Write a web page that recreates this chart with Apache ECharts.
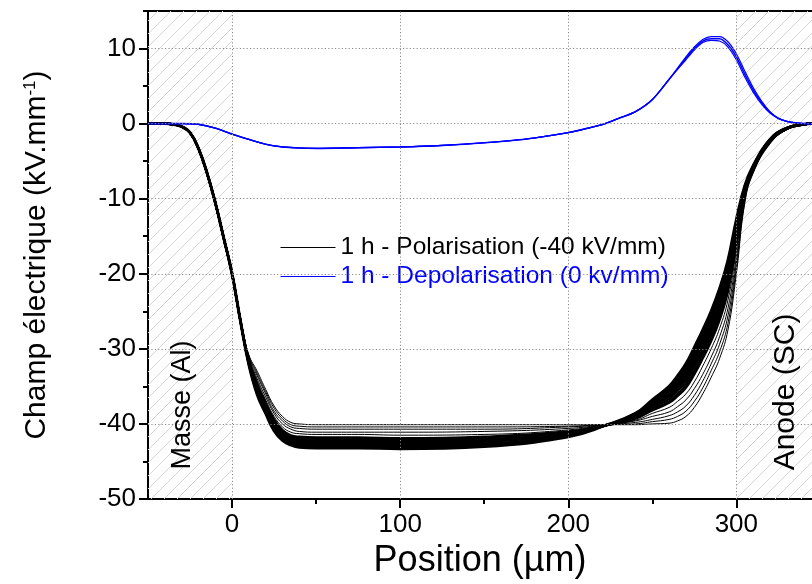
<!DOCTYPE html>
<html>
<head>
<meta charset="utf-8">
<script src="https://cdn.jsdelivr.net/npm/echarts@6/dist/echarts.min.js"></script>
<style>html,body{margin:0;padding:0;background:#fff;}#c{width:812px;height:584px;}</style>
</head>
<body>
<div id="c"></div>
<script>
// ---- data ----
const polName = '1 h - Polarisation (-40 kV/mm)';
const depName = '1 h - Depolarisation (0 kv/mm)';

// shared left part of every polarisation curve
const xHead = [-50, -40, -35, -30, -25, -20, -15, -10, -5, 0, 5];
const yHead = [0, 0, -0.1, -0.4, -1.2, -3.3, -6.5, -10.5, -15.2, -20.0, -26.3];
// per-curve part
const xBody = [10, 15, 20, 25, 30, 35, 40, 50, 75, 100, 150, 200, 222, 240, 250, 260, 265, 270, 275, 280, 285, 290, 295, 300, 305, 310, 320, 330];
// shared right end
const xTail = [340, 345];
const yTail = [-0.1, 0];

const pol01 = [-30.8, -33.0, -35.4, -37.6, -39.0, -39.8, -40.0, -40.1, -40.1, -40.1, -40.1, -40.1, -40.1, -40.1, -40.0, -39.9, -39.6, -39.0, -37.8, -36.0, -33.8, -31.3, -27.5, -20.0, -10.6, -6.6, -2.7, -0.8];
const pol02 = [-30.9, -33.3, -35.7, -37.9, -39.3, -40.1, -40.3, -40.4, -40.4, -40.4, -40.4, -40.3, -40.1, -40.0, -39.7, -39.4, -39.0, -38.3, -37.0, -35.2, -32.9, -30.4, -26.6, -19.3, -10.4, -6.5, -2.6, -0.8];
const pol03 = [-31.1, -33.6, -36.0, -38.3, -39.6, -40.4, -40.6, -40.7, -40.7, -40.7, -40.7, -40.4, -40.1, -39.8, -39.4, -38.9, -38.4, -37.6, -36.2, -34.3, -32.0, -29.4, -25.6, -18.6, -10.1, -6.4, -2.6, -0.8];
const pol04 = [-31.2, -34.0, -36.4, -38.6, -40.0, -40.7, -41.0, -41.1, -41.1, -41.1, -41.0, -40.6, -40.1, -39.6, -39.0, -38.4, -37.7, -36.8, -35.3, -33.4, -31.1, -28.4, -24.6, -17.8, -9.9, -6.3, -2.5, -0.7];
const pol05 = [-31.4, -34.3, -36.8, -39.0, -40.4, -41.1, -41.3, -41.4, -41.4, -41.5, -41.4, -40.8, -40.1, -39.5, -38.6, -37.8, -37.0, -36.0, -34.4, -32.3, -30.0, -27.3, -23.5, -16.9, -9.6, -6.2, -2.4, -0.7];
const pol06 = [-31.5, -34.7, -37.2, -39.4, -40.8, -41.5, -41.7, -41.8, -41.8, -41.9, -41.7, -41.0, -40.2, -39.3, -38.2, -37.2, -36.3, -35.2, -33.4, -31.3, -29.0, -26.2, -22.4, -16.0, -9.3, -6.1, -2.4, -0.7];
const pol07 = [-31.6, -34.9, -37.3, -39.6, -40.9, -41.6, -41.9, -42.0, -42.0, -42.0, -41.8, -41.1, -40.2, -39.2, -38.1, -37.0, -36.0, -34.8, -33.0, -30.9, -28.5, -25.7, -21.9, -15.7, -9.2, -6.0, -2.3, -0.7];
const pol08 = [-31.7, -35.1, -37.5, -39.8, -41.1, -41.8, -42.0, -42.2, -42.2, -42.2, -42.0, -41.2, -40.2, -39.1, -37.9, -36.7, -35.6, -34.4, -32.5, -30.4, -28.0, -25.2, -21.4, -15.3, -9.1, -5.9, -2.3, -0.7];
const pol09 = [-31.7, -35.2, -37.7, -39.9, -41.3, -41.9, -42.2, -42.3, -42.3, -42.4, -42.2, -41.2, -40.2, -39.0, -37.7, -36.4, -35.3, -34.0, -32.1, -30.0, -27.6, -24.7, -20.9, -14.9, -9.0, -5.9, -2.3, -0.7];
const pol10 = [-31.8, -35.4, -37.8, -40.1, -41.4, -42.1, -42.4, -42.5, -42.5, -42.5, -42.3, -41.3, -40.2, -39.0, -37.6, -36.2, -35.0, -33.7, -31.7, -29.5, -27.1, -24.2, -20.4, -14.5, -8.9, -5.8, -2.2, -0.6];
const pol11 = [-31.9, -35.5, -38.0, -40.3, -41.6, -42.2, -42.5, -42.6, -42.6, -42.7, -42.4, -41.4, -40.2, -38.9, -37.4, -36.0, -34.8, -33.4, -31.4, -29.2, -26.7, -23.8, -20.0, -14.2, -8.8, -5.8, -2.2, -0.6];
const pol12 = [-31.9, -35.6, -38.1, -40.4, -41.7, -42.4, -42.6, -42.7, -42.7, -42.8, -42.6, -41.5, -40.2, -38.8, -37.3, -35.7, -34.5, -33.1, -31.0, -28.8, -26.3, -23.4, -19.6, -13.9, -8.6, -5.8, -2.2, -0.6];
const pol13 = [-32.0, -35.8, -38.3, -40.5, -41.9, -42.5, -42.8, -42.9, -42.9, -43.0, -42.7, -41.5, -40.2, -38.8, -37.2, -35.5, -34.3, -32.8, -30.7, -28.4, -26.0, -23.0, -19.2, -13.6, -8.6, -5.7, -2.2, -0.6];
const pol14 = [-32.0, -35.9, -38.4, -40.7, -42.0, -42.6, -42.9, -43.0, -43.0, -43.1, -42.8, -41.6, -40.2, -38.7, -37.0, -35.3, -34.0, -32.5, -30.4, -28.1, -25.6, -22.7, -18.9, -13.3, -8.5, -5.7, -2.1, -0.6];
const pol15 = [-32.1, -36.0, -38.5, -40.8, -42.1, -42.7, -43.0, -43.1, -43.1, -43.2, -42.9, -41.6, -40.2, -38.6, -36.9, -35.2, -33.8, -32.2, -30.1, -27.8, -25.3, -22.3, -18.5, -13.1, -8.4, -5.6, -2.1, -0.6];
const pol16 = [-32.1, -36.1, -38.6, -40.9, -42.2, -42.8, -43.1, -43.2, -43.2, -43.3, -43.0, -41.7, -40.2, -38.6, -36.8, -35.0, -33.6, -32.0, -29.8, -27.5, -25.0, -22.0, -18.2, -12.8, -8.3, -5.6, -2.1, -0.6];

const xBlue = [-50, -40, -30, -20, -10, 0, 10, 20, 30, 40, 50, 75, 100, 125, 150, 175, 200, 210, 222, 230, 240, 250, 260, 270, 275, 280, 285, 290, 295, 300, 305, 310, 315, 320, 325, 330, 335, 340, 345];
const dep1 = [0, 0, 0, -0.1, -0.6, -1.4, -2.1, -2.75, -3.1, -3.25, -3.3, -3.2, -3.1, -2.9, -2.55, -2.05, -1.2, -0.7, 0, 0.7, 1.6, 3.2, 5.9, 8.7, 10.0, 11.0, 11.3, 11.3, 10.5, 8.9, 6.6, 4.5, 2.8, 1.5, 0.7, 0.3, 0.1, 0, 0];
const dep2 = [0, 0, 0, -0.1, -0.6, -1.4, -2.1, -2.75, -3.1, -3.25, -3.3, -3.2, -3.1, -2.9, -2.55, -2.05, -1.2, -0.7, 0, 0.7, 1.6, 3.2, 5.9, 8.9, 10.2, 11.2, 11.6, 11.6, 10.9, 9.3, 7.0, 4.8, 3.0, 1.6, 0.7, 0.3, 0.1, 0, 0];
const dep3 = [0, 0, 0, -0.1, -0.6, -1.4, -2.1, -2.75, -3.1, -3.25, -3.3, -3.2, -3.1, -2.9, -2.55, -2.05, -1.2, -0.7, 0, 0.7, 1.6, 3.2, 5.9, 8.5, 9.8, 10.8, 11.1, 11.0, 10.2, 8.5, 6.2, 4.2, 2.6, 1.4, 0.7, 0.3, 0.1, 0, 0];

const xTicks = [0, 100, 200, 300];
const xMinorTicks = [50, 150, 250];
const yTicks = [-50, -40, -30, -20, -10, 0, 10];
const yMinorTicks = [-45, -35, -25, -15, -5, 5, 15];
const xGrid = [0, 100, 200, 300];
const yGrid = [10, 0, -10, -20, -30, -40];
const hatchRanges = [[-50, 0], [300, 345]];

// ---- build ----
const FONT = '"Liberation Sans", Arial, Helvetica, sans-serif';
const polCurves = [pol01, pol02, pol03, pol04, pol05, pol06, pol07, pol08, pol09, pol10, pol11, pol12, pol13, pol14, pol15, pol16];
const depCurves = [dep1, dep2, dep3];

function polData(body) {
  const xs = xHead.concat(xBody, xTail);
  const ys = yHead.concat(body, yTail);
  return xs.map((x, i) => [x, ys[i]]);
}
function blueData(ys) { return xBlue.map((x, i) => [x, ys[i]]); }

// hatch pattern
const pat = document.createElement('canvas');
pat.width = 13; pat.height = 13;
(function () {
  const g = pat.getContext('2d');
  g.strokeStyle = '#d6d6d6';
  g.lineWidth = 1;
  g.beginPath();
  g.moveTo(-1, 14); g.lineTo(14, -1);
  g.moveTo(-14, 14); g.lineTo(1, -1);
  g.moveTo(12, 14); g.lineTo(27, -1);
  g.stroke();
})();

const series = [];
series.push({
  name: 'helper', type: 'line', data: [], z: 1, silent: true,
  markArea: {
    silent: true,
    itemStyle: { color: { image: pat, repeat: 'repeat' } },
    data: hatchRanges.map(r => [{ xAxis: r[0] }, { xAxis: r[1] }])
  },
  markLine: {
    silent: true, symbol: 'none', label: { show: false },
    lineStyle: { color: '#8a8a8a', width: 1, type: [1.2, 2.2] },
    data: xGrid.map(v => ({ xAxis: v })).concat(yGrid.map(v => ({ yAxis: v })))
  }
});
polCurves.forEach((c, i) => {
  series.push({
    name: polName, type: 'line', data: polData(c), symbol: 'none',
    smooth: 0.45, z: 2, silent: true,
    itemStyle: { color: '#000' },
    lineStyle: { color: '#000', width: i < 5 ? 1 : (i === polCurves.length - 1 ? 3 : 2.2) }
  });
});
depCurves.forEach((c, i) => {
  series.push({
    name: depName, type: 'line', data: blueData(c), symbol: 'none',
    smooth: 0.3, z: 3, silent: true,
    itemStyle: { color: '#0000ff' },
    lineStyle: { color: '#0000ff', width: i === 0 ? 1.5 : 1.2 }
  });
});

const xCommon = { type: 'value', min: -50, max: 345, splitLine: { show: false } };
const yCommon = { type: 'value', min: -50, max: 15, splitLine: { show: false } };
const axisLineStyle = { color: '#000', width: 2 };

const option = {
  animation: false,
  backgroundColor: '#fff',
  grid: { left: 148, top: 11, right: 0, bottom: 84, containLabel: false },
  legend: {
    orient: 'vertical', left: 280, top: 235, padding: 0,
    itemWidth: 55, itemHeight: 12, itemGap: 4,
    itemStyle: { opacity: 0 },
    lineStyle: { width: 1 },
    textStyle: { fontSize: 24.5, fontFamily: FONT },
    data: [
      { name: polName, textStyle: { color: '#000' } },
      { name: depName, textStyle: { color: '#0000ff' } }
    ]
  },
  xAxis: [
    Object.assign({}, xCommon, {
      position: 'bottom',
      axisLine: { show: true, onZero: false, lineStyle: axisLineStyle },
      axisTick: { show: true, customValues: xTicks, length: 9, lineStyle: { color: '#000', width: 2 } },
      axisLabel: { customValues: xTicks, fontSize: 26, color: '#000', fontFamily: FONT, margin: 13 },
      name: 'Position (µm)', nameLocation: 'middle', nameGap: 44,
      nameTextStyle: { fontSize: 36, color: '#000', fontFamily: FONT }
    }),
    Object.assign({}, xCommon, {
      position: 'bottom',
      axisLine: { show: false, onZero: false },
      axisTick: { show: true, customValues: xMinorTicks, length: 5, lineStyle: { color: '#000', width: 2 } },
      axisLabel: { show: false }
    }),
    Object.assign({}, xCommon, {
      position: 'top',
      axisLine: { show: true, onZero: false, lineStyle: axisLineStyle },
      axisTick: { show: false }, axisLabel: { show: false }
    })
  ],
  yAxis: [
    Object.assign({}, yCommon, {
      position: 'left',
      axisLine: { show: true, onZero: false, lineStyle: axisLineStyle },
      axisTick: { show: true, customValues: yTicks, length: 9, lineStyle: { color: '#000', width: 2 } },
      axisLabel: { customValues: yTicks, fontSize: 26, color: '#000', fontFamily: FONT, margin: 12 },
      name: 'Champ électrique (kV.mm{sup|-1})', nameLocation: 'middle', nameGap: 96,
      nameTextStyle: {
        fontSize: 30, color: '#000', fontFamily: FONT,
        rich: { sup: { fontSize: 17, fontFamily: FONT, color: '#000', verticalAlign: 'top', lineHeight: 30 } }
      }
    }),
    Object.assign({}, yCommon, {
      position: 'left',
      axisLine: { show: false, onZero: false },
      axisTick: { show: true, customValues: yMinorTicks, length: 5, lineStyle: { color: '#000', width: 2 } },
      axisLabel: { show: false }
    })
  ],
  graphic: [
    { type: 'text', x: 183, y: 405, rotation: Math.PI / 2, z: 10,
      style: { text: 'Masse (Al)', fontSize: 27, fontFamily: FONT, fill: '#000', align: 'center', verticalAlign: 'middle' } },
    { type: 'text', x: 786, y: 392, rotation: Math.PI / 2, z: 10,
      style: { text: 'Anode (SC)', fontSize: 30, fontFamily: FONT, fill: '#000', align: 'center', verticalAlign: 'middle' } }
  ],
  series: series
};

const chart = echarts.init(document.getElementById('c'), null, { renderer: 'canvas' });
chart.setOption(option);
</script>
</body>
</html>
